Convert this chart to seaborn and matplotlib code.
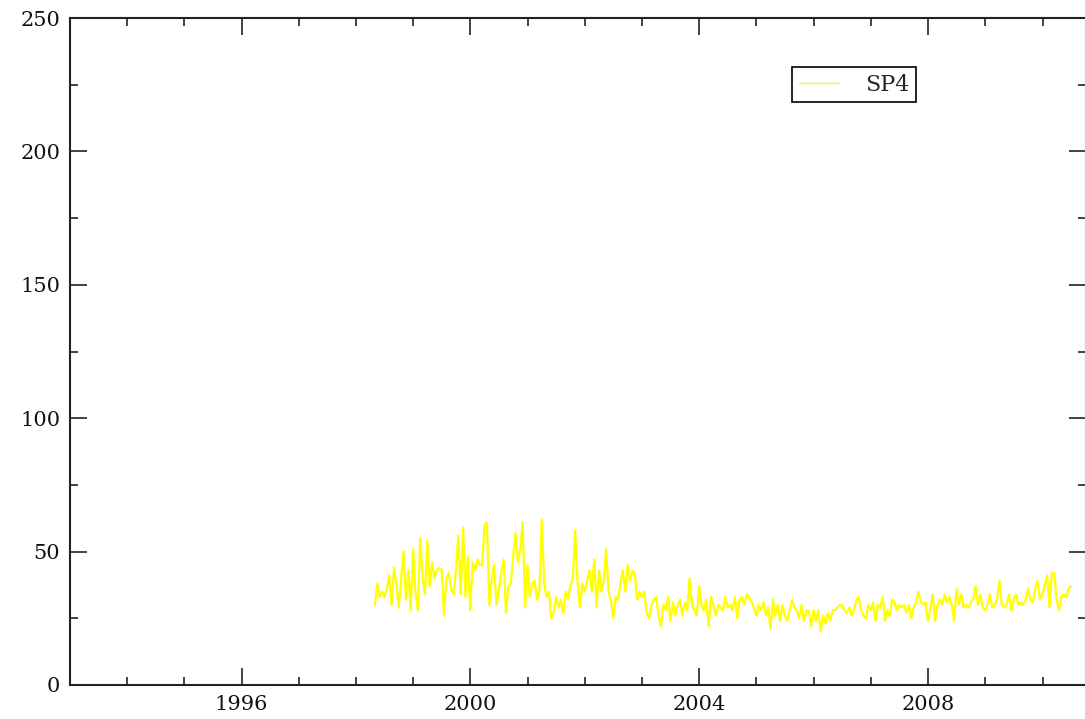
import numpy as np
import pandas as pd
import matplotlib
matplotlib.use("Agg")
import matplotlib.pyplot as plt
from matplotlib.ticker import MultipleLocator, FormatStrFormatter
import seaborn as sns

# SP4 series, one value every half month
series_name = "SP4"
start_year = 1998.33
samples_per_year = 24

sp4_1998_2000 = [30, 38, 33, 35, 33, 36, 41, 30, 44, 38, 29, 40, 50, 32, 43, 28, 51, 35, 28, 55,
                 40, 34, 54, 37, 46, 40, 43, 44, 43, 26, 40, 42, 36, 34, 43, 56, 34, 59, 33, 48,
                 28, 46, 43, 47, 45, 45, 60, 61, 30, 40, 45, 30, 36, 42, 47, 27, 37]
sp4_2000_2003 = [38, 48, 57, 46, 51, 61, 29, 45, 33, 38, 39, 32, 35, 62, 38, 33, 35, 25, 27, 33,
                 29, 32, 27, 35, 32, 37, 40, 58, 39, 29, 38, 35, 39, 43, 35, 47, 29, 43, 35, 39,
                 51, 35, 32, 25, 33, 32, 38, 43, 35, 45, 39, 43, 42, 32, 35, 33, 35, 27, 25]
sp4_2003_2005 = [30, 32, 33, 26, 22, 30, 28, 33, 24, 31, 26, 30, 32, 26, 31, 28, 40, 30, 28, 26,
                 37, 30, 28, 32, 22, 33, 30, 26, 30, 29, 28, 33, 29, 30, 28, 33, 25, 32, 33, 30,
                 34, 33, 31, 29, 26, 30, 28, 31, 26, 29, 21, 32, 26, 30, 24, 30, 26, 24]
sp4_2005_2008 = [28, 32, 29, 28, 25, 30, 24, 28, 28, 22, 28, 24, 28, 20, 26, 23, 27, 24, 28, 28,
                 29, 30, 30, 28, 27, 29, 26, 28, 32, 33, 28, 26, 25, 30, 28, 31, 24, 30, 29, 33,
                 24, 28, 26, 32, 31, 28, 30, 29, 30, 27, 30, 25, 29, 31, 35, 31, 30, 31, 24]
sp4_2008_2010 = [28, 34, 24, 30, 32, 30, 34, 31, 33, 30, 24, 36, 30, 34, 29, 30, 29, 31, 32, 37,
                 30, 34, 29, 28, 30, 34, 29, 30, 32, 39, 30, 29, 30, 34, 28, 32, 34, 30, 31, 30,
                 32, 36, 32, 31, 36, 39, 32, 34, 37, 41, 29, 42, 42, 32, 28, 33, 34, 33, 36, 37]

values = sp4_1998_2000 + sp4_2000_2003 + sp4_2003_2005 + sp4_2005_2008 + sp4_2008_2010
df = pd.DataFrame({
    "year": start_year + np.arange(len(values)) / samples_per_year,
    "value": values,
})

sns.set_style("ticks")
plt.rcParams["font.family"] = ["DejaVu Serif", "DejaVu Sans"]

fig = plt.figure(figsize=(10.85, 7.19), dpi=100)
ax = fig.add_axes([70 / 1085, 34 / 719, 1016 / 1085, 667 / 719])

sns.lineplot(data=df, x="year", y="value", color="#ffff00", lw=1.6,
             label=series_name, ax=ax)

ax.set_xlim(1993, 2010.76)
ax.set_ylim(0, 250)
ax.xaxis.set_major_locator(MultipleLocator(4))
ax.xaxis.set_minor_locator(MultipleLocator(1))
ax.yaxis.set_major_locator(MultipleLocator(50))
ax.yaxis.set_minor_locator(MultipleLocator(25))
ax.xaxis.set_major_formatter(FormatStrFormatter("%d"))
ax.yaxis.set_major_formatter(FormatStrFormatter("%d"))
ax.set_xlabel("")
ax.set_ylabel("")

ax.tick_params(which="both", direction="in", top=True, right=True,
               width=1.2, color="#222222")
ax.tick_params(which="major", length=12, pad=7, labelsize=15, labelcolor="#111111")
ax.tick_params(which="minor", length=6)
for sp in ax.spines.values():
    sp.set_linewidth(1.5)
    sp.set_color("#222222")

leg = ax.legend(loc="upper left", bbox_to_anchor=(792 / 1085, 1 - 67 / 719),
                bbox_transform=fig.transFigure, frameon=True, fancybox=False,
                shadow=False, edgecolor="black", fontsize=16, handlelength=1.8,
                handletextpad=1.2, borderpad=0.3, borderaxespad=0)
leg.get_frame().set_linewidth(1.2)
leg.get_frame().set_alpha(1)
for line in leg.get_lines():
    line.set_linewidth(1.0)

fig.savefig("out.png", dpi=100)
